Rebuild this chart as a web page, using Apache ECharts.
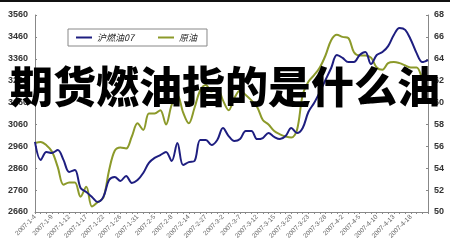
<!DOCTYPE html>
<html><head><meta charset="utf-8">
<script src="https://cdn.jsdelivr.net/npm/echarts@6/dist/echarts.min.js"></script>
<style>html,body{margin:0;padding:0;background:#fff}#c{width:450px;height:250px}</style>
</head><body><div id="c"></div>
<script>
var categories = [
 '2007-1-4','2007-1-5','2007-1-8','2007-1-9','2007-1-10','2007-1-11','2007-1-12','2007-1-15','2007-1-16',
 '2007-1-17','2007-1-18','2007-1-19','2007-1-22','2007-1-23','2007-1-24','2007-1-26','2007-1-29','2007-1-30',
 '2007-1-31','2007-2-1','2007-2-2','2007-2-5','2007-2-6','2007-2-7','2007-2-8','2007-2-9','2007-2-12',
 '2007-2-14','2007-2-15','2007-2-16','2007-2-27','2007-2-28','2007-3-1','2007-3-2','2007-3-5','2007-3-6',
 '2007-3-7','2007-3-8','2007-3-9','2007-3-12','2007-3-13','2007-3-14','2007-3-15','2007-3-16','2007-3-19',
 '2007-3-20','2007-3-21','2007-3-22','2007-3-23','2007-3-26','2007-3-27','2007-3-28','2007-3-29','2007-3-30',
 '2007-4-2','2007-4-3','2007-4-4','2007-4-5','2007-4-6','2007-4-9','2007-4-10','2007-4-11','2007-4-12',
 '2007-4-13','2007-4-16','2007-4-17','2007-4-18','2007-4-19','2007-4-20','2007-4-23'
];
var fuelOil07 = [
 2980,2898,2934,2930,2943,2898,2843,2852,2770,2751,2729,2706,2729,2806,2820,2802,2825,2793,
 2806,2838,2884,2907,2920,2934,2893,2975,2875,2888,2893,2989,2989,2966,2989,3044,3007,2984,
 2993,3030,3030,2993,2998,3021,3003,2993,3007,3044,3021,3044,3117,3158,3208,3263,3318,3377,
 3364,3345,3345,3377,3391,3336,3377,3391,3418,3469,3501,3492,3446,3386,3345,3354
];
var crudeOil = [
 56.3,56.4,56.1,55.5,54.1,52.5,52.7,52.7,51.4,52.3,50.5,50.9,51.3,53.8,55.6,55.9,55.8,56.9,
 58.1,57.5,59.0,59.0,59.3,58.0,59.8,60.7,59.1,58.1,59.5,61.1,61.6,61.0,61.3,60.2,59.3,60.4,
 61.1,60.7,60.2,59.6,58.4,58.0,57.4,57.1,56.9,56.8,57.5,60.7,61.9,62.5,63.2,64.3,65.7,66.2,
 66.0,65.9,64.6,64.3,64.3,64.1,63.2,63.0,63.6,63.7,63.6,63.4,63.2,63.2,62.2,61.3
];
var seriesNames = ['沪燃油07','原油'];
var titleText = '期货燃油指的是什么油';
var lastLabelIndex = 66;

var chart = echarts.init(document.getElementById('c'), null, {renderer:'canvas'});
var labelStyle = {color:'#333', fontSize:9, fontWeight:'bold', fontFamily:'Liberation Sans, Arial'};
chart.setOption({
  animation:false,
  backgroundColor:'#fff',
  grid:{left:35, right:22, top:15, bottom:38, containLabel:false},
  legend:{
    left:68, top:29, width:145, height:20, padding:[4,10,4,8],
    itemGap:24, itemWidth:16, itemHeight:2,
    backgroundColor:'#fff', borderColor:'#888', borderWidth:1, borderRadius:0,
    icon:'rect',
    textStyle:{fontSize:9, fontStyle:'italic', color:'#222', fontFamily:'Noto Sans CJK SC'},
    data:seriesNames
  },
  xAxis:{
    type:'category', data:categories, boundaryGap:false,
    axisLine:{lineStyle:{color:'#888', width:1}},
    axisTick:{show:true, interval:0, length:2, inside:false, lineStyle:{color:'#888'}},
    axisLabel:{interval:function(i){return i%3===0 && i<=lastLabelIndex;}, rotate:45, fontSize:6.5, color:'#666', margin:4, fontFamily:'Liberation Sans, Arial'},
    splitLine:{show:false}
  },
  yAxis:[
    {type:'value', min:2660, max:3560, interval:100, position:'left',
     axisLine:{show:true, lineStyle:{color:'#888'}},
     axisTick:{show:true, inside:true, length:2, lineStyle:{color:'#888'}},
     axisLabel:Object.assign({margin:7, formatter:function(v){return String(v);}}, labelStyle),
     splitLine:{show:false}},
    {type:'value', min:50, max:68, interval:2, position:'right',
     axisLine:{show:true, lineStyle:{color:'#888'}},
     axisTick:{show:true, inside:true, length:2, lineStyle:{color:'#888'}},
     axisLabel:Object.assign({margin:6}, labelStyle),
     splitLine:{show:false}}
  ],
  series:[
    {name:seriesNames[0], type:'line', data:fuelOil07, yAxisIndex:0, smooth:0.35,
     showSymbol:false, lineStyle:{color:'#1e1e80', width:2}, itemStyle:{color:'#1e1e80'}, z:3},
    {name:seriesNames[1], type:'line', data:crudeOil, yAxisIndex:1, smooth:0.35,
     showSymbol:false, lineStyle:{color:'#8c9a2a', width:2}, itemStyle:{color:'#8c9a2a'}, z:2}
  ],
  graphic:[
    {type:'rect', left:0, top:0, shape:{width:450, height:2}, style:{fill:'#111'}, z:100},
    {type:'text', left:'center', top:65, z:100,
     style:{text:titleText, fill:'#000', font:'900 43px "Noto Sans CJK SC"'}}
  ]
});
</script></body></html>
